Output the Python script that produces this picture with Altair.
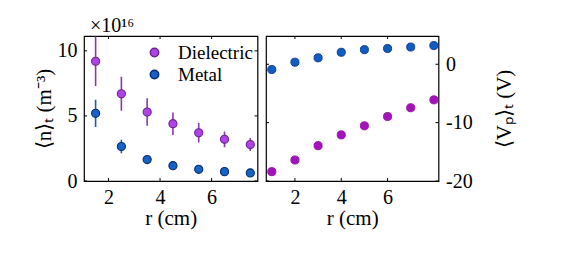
import altair as alt
import pandas as pd

# ---------------- data ----------------
series = ["Dielectric", "Metal"]

r_n = [1.5, 2.5, 3.5, 4.5, 5.5, 6.5, 7.5]
n_dielectric = [9.2, 6.7, 5.3, 4.4, 3.7, 3.2, 2.8]
n_dielectric_err = [1.9, 1.3, 1.05, 0.86, 0.75, 0.6, 0.5]
n_metal = [5.2, 2.65, 1.65, 1.18, 0.9, 0.72, 0.62]
n_metal_err = [1.05, 0.52, 0.2, 0.15, 0.1, 0.08, 0.07]

r_v = [1, 2, 3, 4, 5, 6, 7, 8]
v_dielectric = [-18.4, -16.4, -13.95, -12.1, -10.55, -8.95, -7.45, -6.1]
v_metal = [-0.9, 0.35, 1.1, 2.05, 2.5, 2.7, 2.95, 3.2]

x_ticks = [2, 4, 6]
n_ticks = [0, 5, 10]
v_ticks = [-20, -10, 0]

# ---------------- tables ----------------
rows = []
for r, v, e in zip(r_n, n_dielectric, n_dielectric_err):
    rows.append({"r": r, "n": v, "lo": v - e, "hi": v + e, "series": "Dielectric"})
for r, v, e in zip(r_n, n_metal, n_metal_err):
    rows.append({"r": r, "n": v, "lo": v - e, "hi": v + e, "series": "Metal"})
df_n = pd.DataFrame(rows)

rows = []
for r, v in zip(r_v, v_dielectric):
    rows.append({"r": r, "v": v, "series": "Dielectric"})
for r, v in zip(r_v, v_metal):
    rows.append({"r": r, "v": v, "series": "Metal"})
df_v = pd.DataFrame(rows)

df_xt = pd.DataFrame({"r": x_ticks})
df_nt = pd.DataFrame({"n": n_ticks})
df_vt = pd.DataFrame({"v": v_ticks})

FONT = "Liberation Serif"
W1, W2, H = 173.5, 172.5, 145
TK = 3

# ---------------- left panel ----------------
xs1 = alt.Scale(domain=[1.05, 7.78], nice=False, zero=False)
ys1 = alt.Scale(domain=[0, 11.14], nice=False, zero=False)
xax1 = alt.Axis(values=x_ticks, title="r  (cm)", ticks=False, domain=False, grid=False,
                labelPadding=6, titlePadding=0)
yax1 = alt.Axis(values=n_ticks, title="⟨n⟩ₜ  (m⁻³)", ticks=False, domain=False, grid=False,
                labelPadding=7, titlePadding=3)

def X1(f="r"):
    return alt.X(f + ":Q", scale=xs1, axis=xax1)

def Y1(f="n"):
    return alt.Y(f + ":Q", scale=ys1, axis=yax1)

base_n = alt.Chart(df_n)

err_d = base_n.transform_filter(alt.datum.series == "Dielectric").mark_rule(
    color="#8a3aaa", strokeWidth=1.6, clip=True
).encode(x=X1(), y=Y1("lo"), y2="hi:Q")
err_m = base_n.transform_filter(alt.datum.series == "Metal").mark_rule(
    color="#1c5ab4", strokeWidth=1.6, clip=True
).encode(x=X1(), y=Y1("lo"), y2="hi:Q")

pts_n = base_n.mark_circle(size=66, opacity=1, strokeWidth=1.1).encode(
    x=X1(), y=Y1("n"),
    color=alt.Color("series:N", scale=alt.Scale(domain=series, range=["#b043e6", "#1562c8"]),
                    legend=alt.Legend(title=None, orient="none", legendX=61, legendY=7, padding=0,
                                      symbolType="circle", symbolSize=70,
                                      labelFont=FONT, labelFontSize=19, labelOffset=14,
                                      rowPadding=2, labelColor="black")),
    stroke=alt.Stroke("series:N", scale=alt.Scale(domain=series, range=["#6a2490", "#0a2c6e"]), legend=None),
)

tick_xb1 = alt.Chart(df_xt).mark_rule(color="black", strokeWidth=1).encode(
    x=X1(), y=alt.value(H), y2=alt.value(H - TK))
tick_xt1 = alt.Chart(df_xt).mark_rule(color="black", strokeWidth=1).encode(
    x=X1(), y=alt.value(0), y2=alt.value(TK))
tick_yl1 = alt.Chart(df_nt).mark_rule(color="black", strokeWidth=1).encode(
    y=Y1(), x=alt.value(0), x2=alt.value(TK))
tick_yr1 = alt.Chart(df_nt).mark_rule(color="black", strokeWidth=1).encode(
    y=Y1(), x=alt.value(W1), x2=alt.value(W1 - TK))

left = alt.layer(err_d, err_m, pts_n, tick_xb1, tick_xt1, tick_yl1, tick_yr1).properties(
    width=W1, height=H,
    title=alt.TitleParams("×10¹⁶", anchor="start", frame="group", fontSize=20,
                          font=FONT, fontWeight="normal", offset=0, dx=6, color="black"),
)

# ---------------- right panel ----------------
xs2 = alt.Scale(domain=[0.75, 8.2], nice=False, zero=False)
ys2 = alt.Scale(domain=[-20, 4.84], nice=False, zero=False)
xax2 = alt.Axis(values=x_ticks, title="r  (cm)", ticks=False, domain=False, grid=False,
                labelPadding=6, titlePadding=0)
yax2 = alt.Axis(values=v_ticks, title="⟨Vₚ⟩ₜ  (V)", orient="right", ticks=False, domain=False,
                grid=False, labelPadding=7, titlePadding=21, titleAngle=270,
                titleBaseline="top", labelExpr="datum.value + ''")

def X2(f="r"):
    return alt.X(f + ":Q", scale=xs2, axis=xax2)

def Y2(f="v"):
    return alt.Y(f + ":Q", scale=ys2, axis=yax2)

pts_v = alt.Chart(df_v).mark_circle(size=66, opacity=1, strokeWidth=0.9).encode(
    x=X2(), y=Y2(),
    fill=alt.Fill("series:N", scale=alt.Scale(domain=series, range=["#a312bb", "#105cc2"]), legend=None),
    stroke=alt.Stroke("series:N", scale=alt.Scale(domain=series, range=["#9410aa", "#0b3a86"]), legend=None),
)

tick_xb2 = alt.Chart(df_xt).mark_rule(color="black", strokeWidth=1).encode(
    x=X2(), y=alt.value(H), y2=alt.value(H - TK))
tick_xt2 = alt.Chart(df_xt).mark_rule(color="black", strokeWidth=1).encode(
    x=X2(), y=alt.value(0), y2=alt.value(TK))
tick_yl2 = alt.Chart(df_vt).mark_rule(color="black", strokeWidth=1).encode(
    y=Y2(), x=alt.value(0), x2=alt.value(TK))
tick_yr2 = alt.Chart(df_vt).mark_rule(color="black", strokeWidth=1).encode(
    y=Y2(), x=alt.value(W2), x2=alt.value(W2 - TK))

right = alt.layer(pts_v, tick_xb2, tick_xt2, tick_yl2, tick_yr2).properties(width=W2, height=H)

chart = alt.hconcat(left, right, spacing=5).resolve_scale(
    x="independent", y="independent", fill="independent", stroke="independent", color="independent"
).properties(
    padding={"left": 24, "top": 6, "right": 5, "bottom": 5},
    background="white",
).configure(
    font=FONT
).configure_view(
    stroke="black", strokeWidth=1.2
).configure_axis(
    labelFont=FONT, labelFontSize=20, labelColor="black",
    titleFont=FONT, titleFontSize=21, titleColor="black", titleFontWeight="normal",
).configure_legend(
    labelFont=FONT, labelFontSize=19, labelColor="black"
)

chart.save("out.html", embed_options={"renderer": "svg", "actions": False})
